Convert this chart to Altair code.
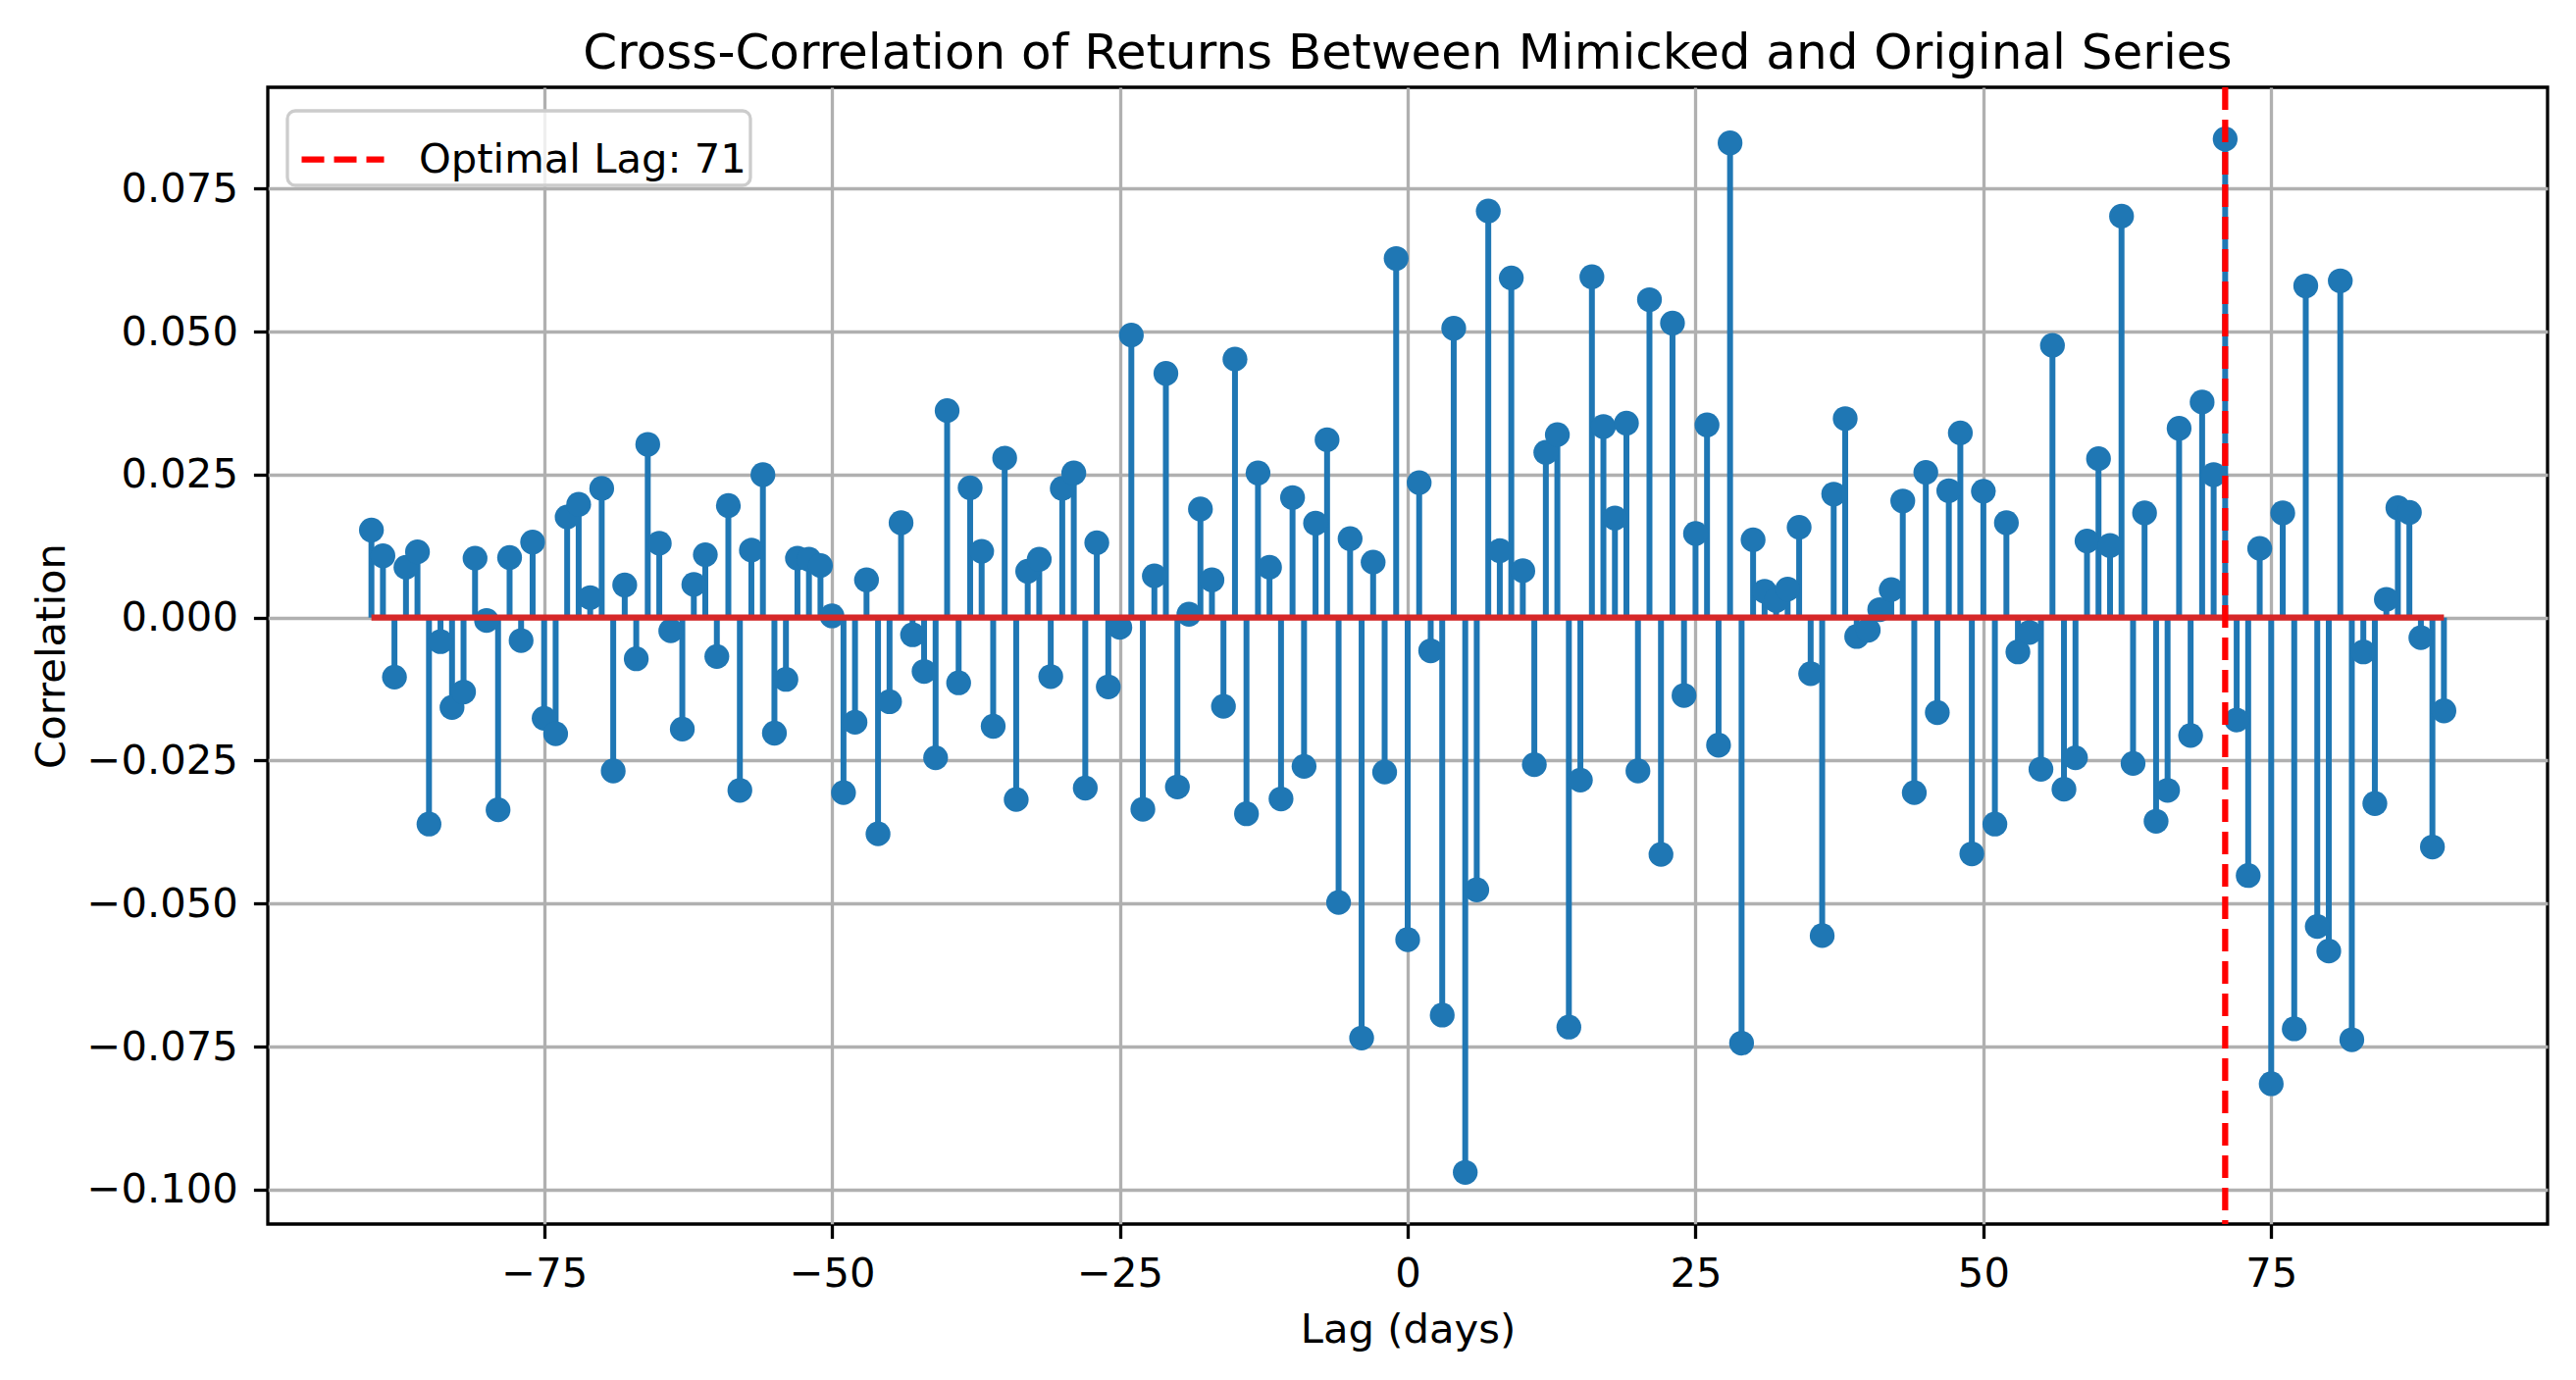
import altair as alt
import pandas as pd

lags = list(range(-90, 91))
corr = [
    0.0153, 0.0108, -0.0104, 0.0088, 0.0115, -0.0361, -0.0042, -0.0157, -0.0130, 0.0104,
    -0.0005, -0.0336, 0.0105, -0.0040, 0.0132, -0.0176, -0.0203, 0.0176, 0.0198, 0.0035,
    0.0226, -0.0268, 0.0057, -0.0072, 0.0303, 0.0130, -0.0023, -0.0195, 0.0058, 0.0110,
    -0.0068, 0.0196, -0.0302, 0.0118, 0.0250, -0.0202, -0.0108, 0.0104, 0.0102, 0.0091,
    0.0003, -0.0306, -0.0183, 0.0066, -0.0378, -0.0147, 0.0166, -0.0030, -0.0094, -0.0245,
    0.0362, -0.0114, 0.0227, 0.0116, -0.0190, 0.0279, -0.0318, 0.0081, 0.0102, -0.0103,
    0.0226, 0.0253, -0.0298, 0.0131, -0.0121, -0.0017, 0.0494, -0.0335, 0.0073, 0.0427,
    -0.0296, 0.0006, 0.0190, 0.0066, -0.0155, 0.0452, -0.0343, 0.0253, 0.0088, -0.0317,
    0.0210, -0.0260, 0.0165, 0.0311, -0.0498, 0.0138, -0.0735, 0.0097, -0.0270, 0.0628,
    -0.0563, 0.0236, -0.0058, -0.0695, 0.0506, -0.0970, -0.0476, 0.0711, 0.0117, 0.0594,
    0.0082, -0.0257, 0.0289, 0.0320, -0.0716, -0.0284, 0.0596, 0.0334, 0.0174, 0.0340,
    -0.0268, 0.0556, -0.0414, 0.0515, -0.0136, 0.0147, 0.0337, -0.0223, 0.0830, -0.0744,
    0.0136, 0.0046, 0.0030, 0.0050, 0.0158, -0.0098, -0.0556, 0.0216, 0.0348, -0.0033,
    -0.0022, 0.0014, 0.0049, 0.0204, -0.0306, 0.0254, -0.0166, 0.0222, 0.0323, -0.0413,
    0.0221, -0.0361, 0.0166, -0.0060, -0.0026, -0.0265, 0.0476, -0.0300, -0.0245, 0.0134,
    0.0278, 0.0126, 0.0702, -0.0255, 0.0183, -0.0356, -0.0302, 0.0331, -0.0206, 0.0377,
    0.0250, 0.0837, -0.0179, -0.0451, 0.0121, -0.0815, 0.0183, -0.0719, 0.0580, -0.0540,
    -0.0583, 0.0589, -0.0738, -0.0060, -0.0325, 0.0032, 0.0192, 0.0184, -0.0035, -0.0401,
    -0.0163,
]
optimal_lag = 71
legend_label = f"Optimal Lag: {optimal_lag}"
x_ticks = [-75, -50, -25, 0, 25, 50, 75]
y_ticks = [-0.1, -0.075, -0.05, -0.025, 0.0, 0.025, 0.05, 0.075]

df = pd.DataFrame({"lag": lags, "corr": corr})
base_df = pd.DataFrame({"x0": [lags[0]], "x1": [lags[-1]], "y": [0.0]})
opt_df = pd.DataFrame({"lag": [optimal_lag], "label": [legend_label]})

# matplotlib-like 5% margins
xr = lags[-1] - lags[0]
x_dom = [lags[0] - 0.05 * xr, lags[-1] + 0.05 * xr]
yr = max(corr) - min(corr)
y_dom = [min(corr) - 0.05 * yr, max(corr) + 0.05 * yr]

FONT = "DejaVu Sans"
FS = 41.7
BLUE = "#1f77b4"

xs = alt.Scale(domain=x_dom, nice=False, zero=False)
ys = alt.Scale(domain=y_dom, nice=False, zero=False)

x_axis = alt.Axis(values=x_ticks, format="d", title="Lag (days)", titleY=120,
                  titleBaseline="alphabetic")
y_axis = alt.Axis(values=y_ticks, format=".3f", title="Correlation", titleX=-208,
                  titleY=579.5, titleAngle=270, titleBaseline="alphabetic",
                  titleAlign="center")

stems = alt.Chart(df).mark_rule(color=BLUE, strokeWidth=6).encode(
    x=alt.X("lag:Q", scale=xs, axis=x_axis),
    y=alt.Y("corr:Q", scale=ys, axis=y_axis),
    y2=alt.datum(0),
)
dots = alt.Chart(df).mark_circle(color=BLUE, size=640, opacity=1).encode(
    x=alt.X("lag:Q", scale=xs),
    y=alt.Y("corr:Q", scale=ys),
)
baseline = alt.Chart(base_df).mark_rule(color="#d62728", strokeWidth=6.25).encode(
    x=alt.X("x0:Q", scale=xs),
    x2="x1:Q",
    y=alt.Y("y:Q", scale=ys),
)
opt_line = alt.Chart(opt_df).mark_rule(strokeWidth=6.25, strokeDash=[23, 10]).encode(
    x=alt.X("lag:Q", scale=xs),
    color=alt.Color(
        "label:N",
        scale=alt.Scale(domain=[legend_label], range=["#ff0000"]),
        legend=alt.Legend(
            orient="none", legendX=20, legendY=24, title=None,
            symbolType="stroke", symbolDash=[23, 10], symbolStrokeWidth=6.25,
            symbolSize=7056, symbolOffset=7, labelFont=FONT, labelFontSize=FS,
            labelColor="black", labelLimit=2000,
            labelOffset=32, fillColor="rgba(255,255,255,0.8)", strokeColor="#cccccc",
            cornerRadius=8, padding=4,
        ),
    ),
)

chart = (
    alt.layer(stems, dots, baseline, opt_line)
    .properties(
        width=2324,
        height=1159,
        autosize=alt.AutoSizeParams(type="none"),
        padding={"left": 265, "top": 81, "right": 15, "bottom": 145},
        title=alt.TitleParams(
            "Cross-Correlation of Returns Between Mimicked and Original Series",
            font=FONT, fontSize=50, fontWeight="normal", color="black",
            anchor="middle", baseline="alphabetic", offset=22, dy=56, frame="group",
        ),
    )
    .configure_view(stroke="black", strokeWidth=3.3)
    .configure_axis(
        labelFont=FONT, labelFontSize=FS, labelColor="black",
        titleFont=FONT, titleFontSize=FS, titleFontWeight="normal", titleColor="black",
        grid=True, gridColor="#b0b0b0", gridWidth=3.3, gridOpacity=1,
        domain=False, tickColor="black", tickWidth=3.3, tickSize=14.6,
        labelPadding=16,
    )
    .configure_legend(strokeWidth=3.3)
)

chart.save("out.html", embed_options={"renderer": "svg", "actions": False})
